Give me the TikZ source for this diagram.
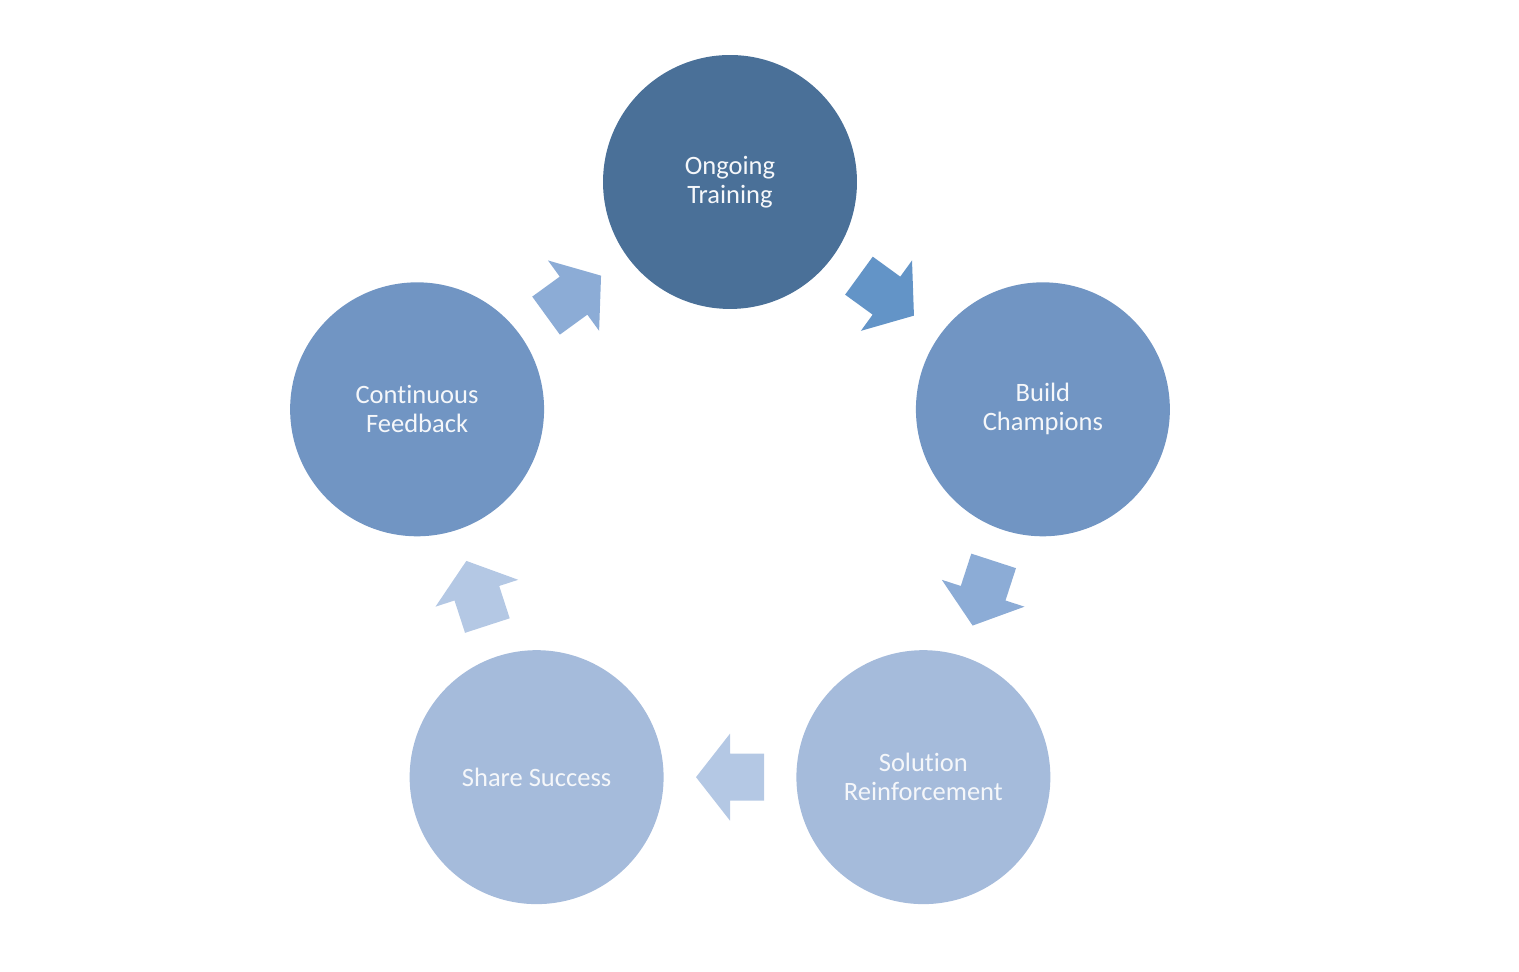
\documentclass[tikz,border=0pt]{standalone}
\usepackage{fontspec}
\setmainfont[Ligatures={NoCommon}]{Carlito}
\usepackage{tikz}
\usetikzlibrary{calc}

\definecolor{traincol}{RGB}{74,112,152}
\definecolor{midcol}{RGB}{113,149,195}
\definecolor{lightcol}{RGB}{165,187,219}
\definecolor{arrdark}{RGB}{99,148,199}
\definecolor{arrmid}{RGB}{140,172,214}
\definecolor{arrlight}{RGB}{180,200,228}
\definecolor{textcol}{RGB}{245,247,250}

\tikzset{
    stage/.style={circle, minimum size=5.08cm, inner sep=0pt, text=textcol,
        align=center, font=\fontsize{15.1}{16.5}\selectfont},
}

% block arrow from one stage to the next
\newcommand{\cyclearrow}[3]{%
    \pgfmathanglebetweenpoints{\pgfpointanchor{#1}{center}}{\pgfpointanchor{#2}{center}}%
    \let\arrang\pgfmathresult
    \fill[#3, shift={($(#1)!0.5!(#2)$)}, rotate=\arrang]
        (-34,-23.5) -- (0,-23.5) -- (0,-43.5) -- (34,0) -- (0,43.5) -- (0,23.5) -- (-34,23.5) -- cycle;
}

\begin{document}
\begin{tikzpicture}[x=0.02cm, y=0.02cm]

\useasboundingbox (0,0) rectangle (1519,972);

% Radius of the cycle
\def\R{329}
\coordinate (C) at (730,461);

% Stages
\node[stage, fill=traincol] (train) at ($(C)+(90:\R)$) {Ongoing\\Training};
\node[stage, fill=midcol] (champ) at ($(C)+(18:\R)$) {Build\\Champions};
\node[stage, fill=lightcol] (reinf) at ($(C)+(-54:\R)$) {Solution\\Reinforcement};
\node[stage, fill=lightcol] (share) at ($(C)+(-126:\R)$) {Share Success};
\node[stage, fill=midcol] (feedb) at ($(C)+(162:\R)$) {Continuous\\Feedback};

% Arrows
\cyclearrow{train}{champ}{arrdark}
\cyclearrow{champ}{reinf}{arrmid}
\cyclearrow{reinf}{share}{arrlight}
\cyclearrow{share}{feedb}{arrlight}
\cyclearrow{feedb}{train}{arrmid}

\end{tikzpicture}
\end{document}
